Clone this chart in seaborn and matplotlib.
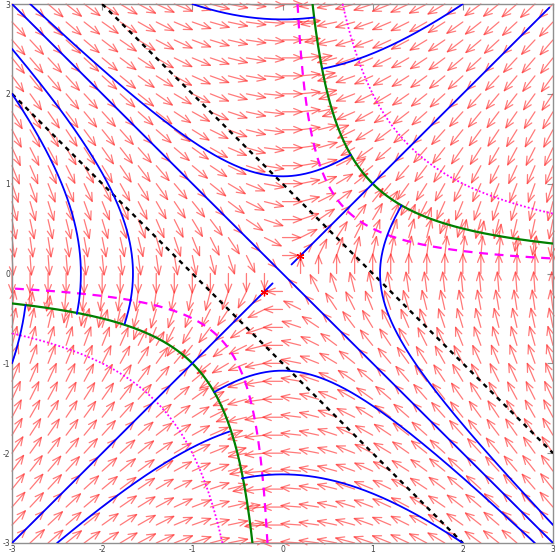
import numpy as np
import matplotlib
matplotlib.use("Agg")
import matplotlib.pyplot as plt
import seaborn as sns

# ---------------- data ----------------
x_ticks = [-3, -2, -1, 0, 1, 2, 3]
y_ticks = [-3, -2, -1, 0, 1, 2, 3]
tick_labels = ["-3", "-2", "-1", "0", "1", "2", "3"]

# direction field: x' = y(1 - x y), y' = x(1 - x y) on a 31 x 31 grid
grid_n = 31

# blue field lines (hyperbolas y^2 - x^2 = c or x^2 - y^2 = c)
blue_c = [1.17, 8.0, 5.0, 1.17, 5.0, 2.75, 8.0, 5.0, 2.75, 1.17]
blue_axis = ["y", "y", "y", "y", "y", "y", "x", "x", "x", "x"]
blue_sign = [1, 1, 1, -1, -1, -1, -1, -1, -1, 1]
blue_start = [-2.8, -1.0, 0.45, -0.757, -0.45, -2.5, -1.0, -0.45, -0.56, -2.8]
blue_end = [0.757, 0.351, 2.0, 2.8, 2.0, -0.59, -0.353, 2.0, 2.5, 0.757]

# straight blue separatrices y = k x
line_slope = [-1, 1, 1]
line_start = [-3.0, 0.10, -3.0]
line_end = [3.0, 2.96, -0.11]

# level curves x*y = k
green_k = 1.0
mag_dash_k = 0.5
mag_dot_k = 2.0

# black dashed lines x + y = s
black_s = [1.0, -1.0]

# red star markers (initial points)
star_x = [0.19, -0.21]
star_y = [0.20, -0.21]


def field(x, y):
    f = 1.0 - x * y
    return y * f, x * f


# ---------------- figure ----------------
sns.set_theme(style="white")
plt.rcParams["font.family"] = ["DejaVu Sans"]
fig = plt.figure(figsize=(5.55, 5.58), dpi=100)
ax = fig.add_axes([12 / 555, 1 - 543 / 558, 541 / 555, 539 / 558])
ax.set_xlim(-3, 3)
ax.set_ylim(-3, 3)

# arrows
gx = np.linspace(-3, 3, grid_n)
X, Y = np.meshgrid(gx, gx)
U, V = field(X, Y)
M = np.hypot(U, V)
L = 0.235
for xi, yi, ui, vi, mi in zip(X.ravel(), Y.ravel(), U.ravel(), V.ravel(), M.ravel()):
    if mi < 1e-9:
        continue
    s = L * (0.6 + 0.4 * np.tanh(3 * mi)) / mi
    ax.annotate("", xy=(xi + ui * s, yi + vi * s), xytext=(xi, yi),
                arrowprops=dict(arrowstyle="->,head_length=0.5,head_width=0.2",
                                color=(1.0, 0.2, 0.2, 0.65), lw=0.9,
                                shrinkA=0, shrinkB=0), zorder=1)

# level curves
def xy_curve(k, sgn):
    xs = np.linspace(k / 3.0, 3.0, 300) * sgn
    return xs, k / xs

for sgn in (1, -1):
    xs, ys = xy_curve(mag_dot_k, sgn)
    sns.lineplot(x=xs, y=ys, sort=False, estimator=None, ax=ax, color="#ff00ff",
                 lw=1.3, linestyle=(0, (1, 1.2)), zorder=3)
    xs, ys = xy_curve(mag_dash_k, sgn)
    sns.lineplot(x=xs, y=ys, sort=False, estimator=None, ax=ax, color="#ff00ff",
                 lw=1.6, linestyle=(0, (4, 3)), zorder=3)
    xs, ys = xy_curve(green_k, sgn)
    sns.lineplot(x=xs, y=ys, sort=False, estimator=None, ax=ax, color="#008000",
                 lw=1.6, zorder=4)

# black dashed
for s in black_s:
    xs = np.linspace(max(-3, s - 3), min(3, s + 3), 100)
    sns.lineplot(x=xs, y=s - xs, sort=False, estimator=None, ax=ax, color="black",
                 lw=1.7, linestyle=(0, (2, 2)), zorder=4)

# blue field lines
for c, a, sg, t0, t1 in zip(blue_c, blue_axis, blue_sign, blue_start, blue_end):
    t = np.linspace(t0, t1, 300)
    if a == "y":
        xs, ys = t, sg * np.sqrt(t ** 2 + c)
    else:
        xs, ys = sg * np.sqrt(t ** 2 + c), t
    sns.lineplot(x=xs, y=ys, sort=False, estimator=None, ax=ax, color="#0000ff",
                 lw=1.3, zorder=5)
for k, t0, t1 in zip(line_slope, line_start, line_end):
    xs = np.linspace(t0, t1, 50)
    sns.lineplot(x=xs, y=k * xs, sort=False, estimator=None, ax=ax, color="#0000ff",
                 lw=1.3, zorder=5)

ax.plot(star_x, star_y, linestyle="none", marker=(6, 2, 0), ms=5.5, color="red", mew=0.9, zorder=6)

# axes styling
for sp in ax.spines.values():
    sp.set_color("#909090")
    sp.set_linewidth(1.0)
ax.set_xticks(x_ticks)
ax.set_yticks(y_ticks)
ax.set_xticklabels(tick_labels)
ax.set_yticklabels(tick_labels)
ax.tick_params(direction="in", length=4, width=0.8, color="#909090", labelsize=5.5,
               labelcolor="#404040", top=True, right=True, pad=1.5)
ax.set_xlabel("")
ax.set_ylabel("")
fig.savefig("out.png", dpi=100)
